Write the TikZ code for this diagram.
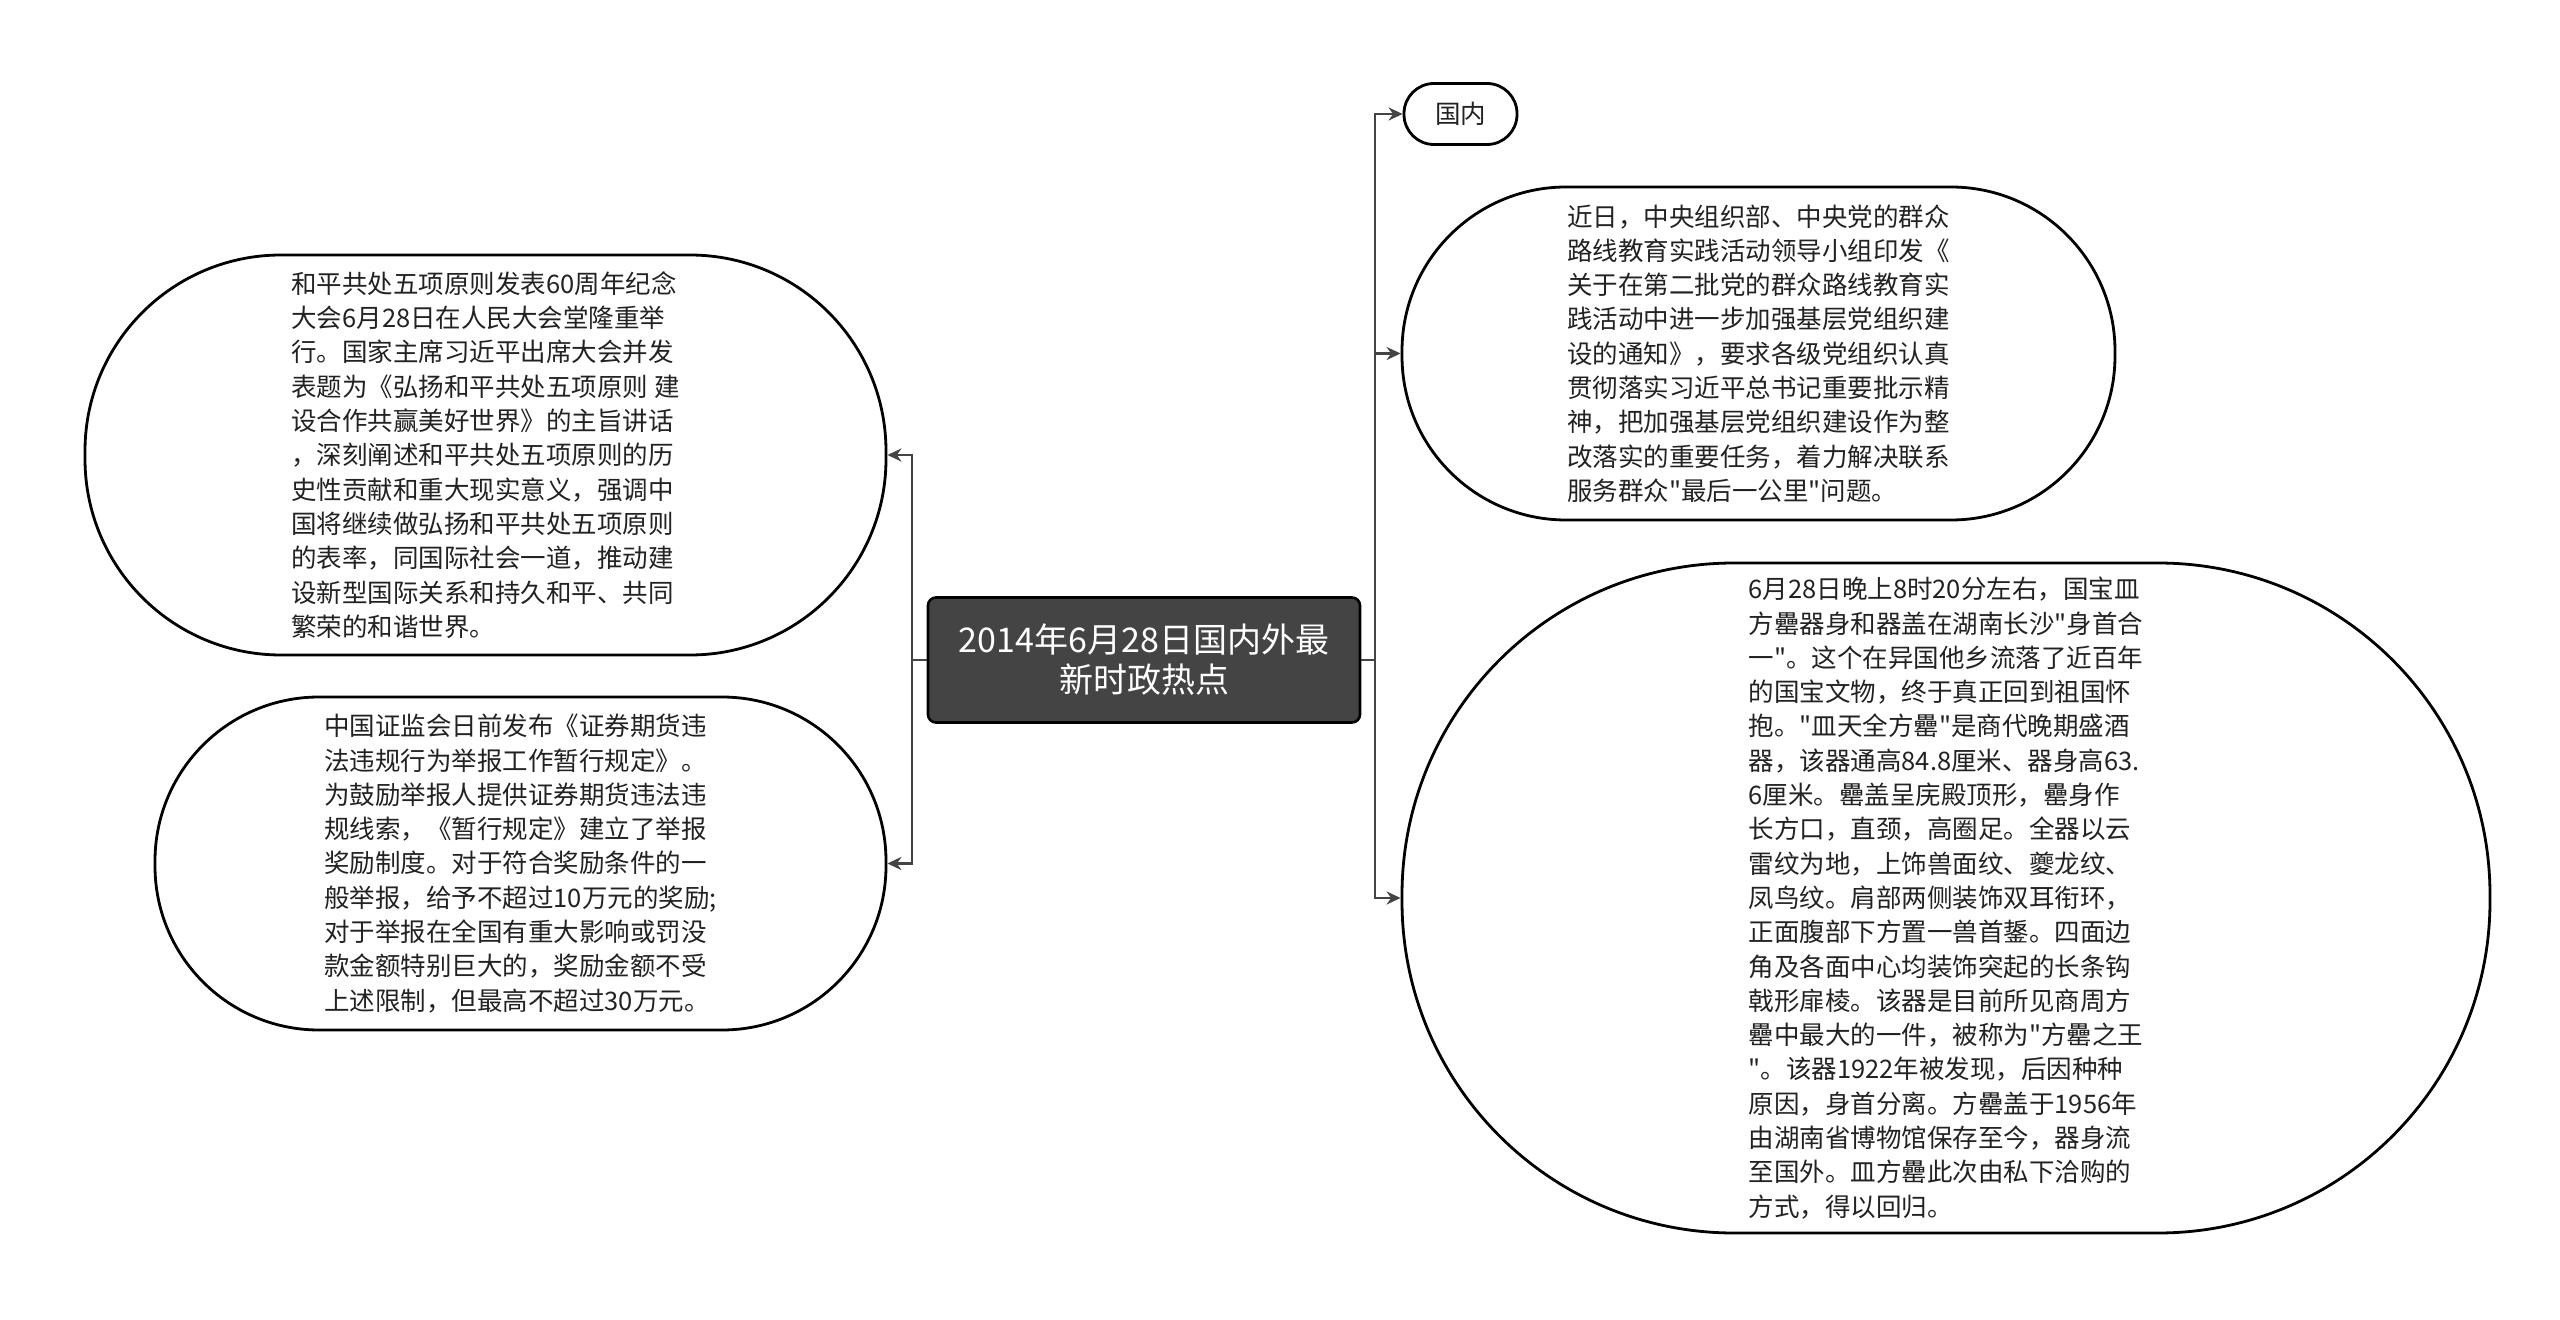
\documentclass[tikz,border=0pt]{standalone}
\usepackage{fontspec}
\setmainfont{Noto Sans CJK SC}[Ligatures=TeXOff]
\usetikzlibrary{arrows.meta}
\definecolor{lineC}{HTML}{444444}
\definecolor{rootF}{HTML}{444444}
\definecolor{txtC}{HTML}{222222}
\begin{document}
\begin{tikzpicture}[x=0.5pt,y=-0.5pt,
  topic/.style={draw=black, line width=1.4pt, fill=white, align=left, text=txtC,
    font=\fontsize{12.75}{17.15}\selectfont, inner sep=0pt},
  root/.style={draw=black, fill=rootF, line width=1.3pt, rounded corners=4pt, text=white,
    align=center, font=\fontsize{17}{20}\selectfont, minimum width=216pt, minimum height=62.5pt, inner sep=0pt},
  link/.style={draw=lineC, line width=1.2pt},
  arr/.style={link, -{Stealth[length=7pt,width=6.5pt]}}
]
\useasboundingbox (0,0) rectangle (2560,1320);
\fill[white] (0,0) rectangle (2560,1320);

\node[root] (c) at (1144,660) {2014年6月28日国内外最\\新时政热点};

\node[topic, minimum width=400.5pt, minimum height=200pt, rounded corners=98pt] (l1) at (485.5,455) {%
和平共处五项原则发表60周年纪念\\
大会6月28日在人民大会堂隆重举\\
行。国家主席习近平出席大会并发\\
表题为《弘扬和平共处五项原则 建\\
设合作共赢美好世界》的主旨讲话\\
，深刻阐述和平共处五项原则的历\\
史性贡献和重大现实意义，强调中\\
国将继续做弘扬和平共处五项原则\\
的表率，同国际社会一道，推动建\\
设新型国际关系和持久和平、共同\\
繁荣的和谐世界。};

\node[topic, minimum width=365.5pt, minimum height=166.5pt, rounded corners=82pt] (l2) at (520.5,863.5) {%
中国证监会日前发布《证券期货违\\
法违规行为举报工作暂行规定》。\\
为鼓励举报人提供证券期货违法违\\
规线索，《暂行规定》建立了举报\\
奖励制度。对于符合奖励条件的一\\
般举报，给予不超过10万元的奖励;\\
对于举报在全国有重大影响或罚没\\
款金额特别巨大的，奖励金额不受\\
上述限制，但最高不超过30万元。};

\node[topic, align=center, minimum width=56.5pt, minimum height=30.5pt, rounded corners=15pt] (gn) at (1460.5,114) {国内};

\node[topic, minimum width=356.5pt, minimum height=166.5pt, rounded corners=82pt] (r2) at (1758.5,353.5) {%
近日，中央组织部、中央党的群众\\
路线教育实践活动领导小组印发《\\
关于在第二批党的群众路线教育实\\
践活动中进一步加强基层党组织建\\
设的通知》，要求各级党组织认真\\
贯彻落实习近平总书记重要批示精\\
神，把加强基层党组织建设作为整\\
改落实的重要任务，着力解决联系\\
服务群众"最后一公里"问题。};

\node[topic, minimum width=544pt, minimum height=335pt, rounded corners=166pt] (r3) at (1946,898) {%
6月28日晚上8时20分左右，国宝皿\\
方罍器身和器盖在湖南长沙"身首合\\
一"。这个在异国他乡流落了近百年\\
的国宝文物，终于真正回到祖国怀\\
抱。"皿天全方罍"是商代晚期盛酒\\
器，该器通高84.8厘米、器身高63.\\
6厘米。罍盖呈庑殿顶形，罍身作\\
长方口，直颈，高圈足。全器以云\\
雷纹为地，上饰兽面纹、夔龙纹、\\
凤鸟纹。肩部两侧装饰双耳衔环，\\
正面腹部下方置一兽首鋬。四面边\\
角及各面中心均装饰突起的长条钩\\
戟形扉棱。该器是目前所见商周方\\
罍中最大的一件，被称为"方罍之王\\
"。该器1922年被发现，后因种种\\
原因，身首分离。方罍盖于1956年\\
由湖南省博物馆保存至今，器身流\\
至国外。皿方罍此次由私下洽购的\\
方式，得以回归。};

\coordinate (lt) at (912,660);
\coordinate (rt) at (1375,660);

\draw[arr] (c.west) -- (lt) |- (l1.east);
\draw[arr] (c.west) -- (lt) |- (l2.east);
\draw[arr] (c.east) -- (rt) |- (gn.west);
\draw[arr] (c.east) -- (rt) |- (r2.west);
\draw[arr] (c.east) -- (rt) |- (r3.west);
\end{tikzpicture}
\end{document}
